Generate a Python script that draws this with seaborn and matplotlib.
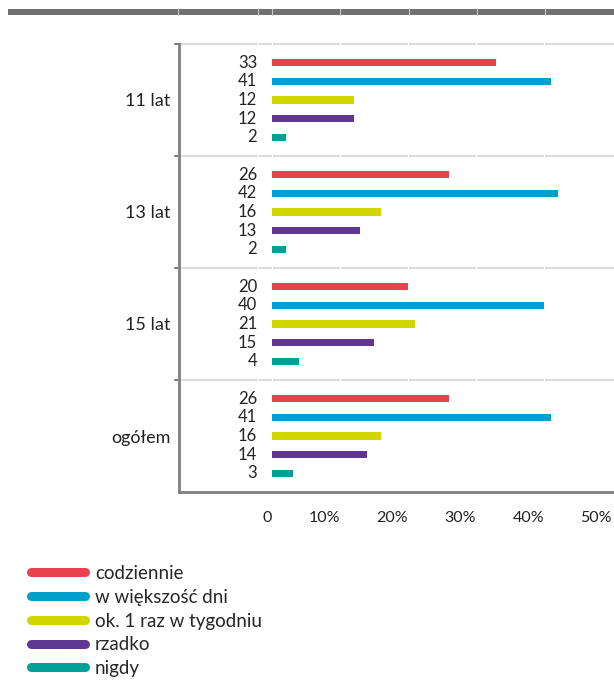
import pandas as pd
import matplotlib.pyplot as plt
import seaborn as sns
from matplotlib.lines import Line2D

# --- Data ---
groups = ["11 lat", "13 lat", "15 lat", "ogółem"]
answers = ["codziennie", "w większość dni", "ok. 1 raz w tygodniu", "rzadko", "nigdy"]
codziennie = [33, 26, 20, 26]
wiekszosc_dni = [41, 42, 40, 41]
raz_w_tygodniu = [12, 16, 21, 16]
rzadko = [12, 13, 15, 14]
nigdy = [2, 2, 4, 3]
x_ticks = [0, 10, 20, 30, 40, 50]
x_tick_labels = ["0", "10%", "20%", "30%", "40%", "50%"]

colors = ["#E8414F", "#00A0C8", "#D2D600", "#5F3790", "#00A096"]

series = [codziennie, wiekszosc_dni, raz_w_tygodniu, rzadko, nigdy]
rows = []
for answer, values in zip(answers, series):
    for group, v in zip(groups, values):
        rows.append({"grupa": group, "odpowiedz": answer, "procent": v})
df = pd.DataFrame(rows)

# --- Style ---
sns.set_style("white")
plt.rcParams["font.family"] = ["Lato", "DejaVu Sans"]

fig = plt.figure(figsize=(6.14, 6.93), dpi=100)
W, H = 614, 693
ax = fig.add_axes([179 / W, (H - 492) / H, (614 - 179) / W, (492 - 44) / H])

sns.barplot(data=df, y="grupa", x="procent", hue="odpowiedz", order=groups,
            hue_order=answers, palette=colors, orient="h", width=0.835, gap=0.62,
            saturation=1, legend=False, ax=ax, zorder=3, linewidth=0)

ax.set_xlim(-13.7, 50.3)
ax.set_ylim(3.5, -0.5)

# group separators and white vertical grid
for yv in [-0.5, 0.5, 1.5, 2.5]:
    ax.axhline(yv, color="#d4d4d4", lw=1.2, zorder=1, clip_on=False)
for xv in [-2.1] + x_ticks[:-1]:
    ax.axvline(xv, color="white", lw=0.8, zorder=2, ymin=0, ymax=1.075, clip_on=False)

# value labels left of the bars
for container, values in zip(ax.containers, series):
    for patch, v in zip(container.patches, values):
        yc = patch.get_y() + patch.get_height() / 2
        ax.text(-2.2, yc, str(v), ha="right", va="center", fontsize=12, color="#222222")

ax.set_xticks(x_ticks)
ax.set_xticklabels(x_tick_labels, fontsize=11.5, color="#222222", ha="right")
ax.set_yticks(range(len(groups)))
ax.set_yticklabels(groups, fontsize=13, color="#222222")
ax.set_xlabel("")
ax.set_ylabel("")

ax.tick_params(axis="x", direction="out", length=6, width=1.5, color="#808080", pad=8)
ax.tick_params(axis="y", length=0, pad=6)
for yv in [-0.5, 0.5, 1.5, 2.5]:
    ax.plot([-14.3, -13.7], [yv, yv], color="#808080", lw=1.5, clip_on=False, zorder=4)

for side in ["top", "right"]:
    ax.spines[side].set_visible(False)
for side in ["left", "bottom"]:
    ax.spines[side].set_color("#808080")
    ax.spines[side].set_linewidth(2)
    ax.spines[side].set_zorder(5)

# top decorative bar
fig.add_artist(Line2D([8 / W, 1], [(H - 12) / H] * 2, color="#707070", lw=4.3,
                      solid_capstyle="butt"))
for xp in [178, 258, 272, 340, 409, 477, 545]:
    fig.add_artist(Line2D([xp / W] * 2, [(H - 15) / H, (H - 9) / H], color="#c8c8c8", lw=0.8))

# legend
handles = [Line2D([0], [0], color=c, lw=6.5, solid_capstyle="round") for c in colors]
fig.legend(handles, answers, loc="upper left", bbox_to_anchor=(31 / W, (H - 565) / H),
           frameon=False, fontsize=13.5, handlelength=2.9, handletextpad=0.5,
           labelspacing=0.36, borderpad=0, borderaxespad=0)

fig.savefig("out.png", dpi=100)
